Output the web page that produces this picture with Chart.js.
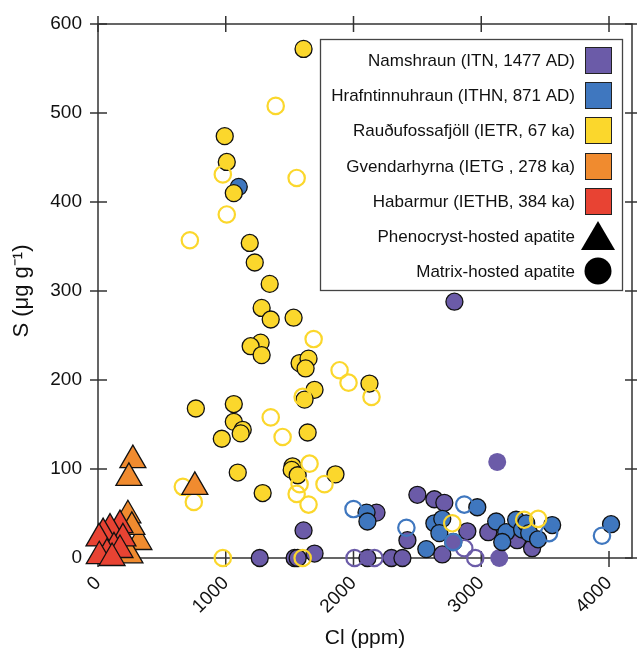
<!DOCTYPE html>
<html>
<head>
<meta charset="utf-8">
<script src="https://cdn.jsdelivr.net/npm/chart.js@4.4.1/dist/chart.umd.min.js"></script>
<style>
  html, body { margin: 0; padding: 0; background: #fff; }
</style>
</head>
<body>
<canvas id="scatter-chart" width="637" height="653"></canvas>
<script>
// Cl (ppm) vs S (ug/g) in apatite as [Cl, S]
const namshraunMatrix = [[1266,0],[1539,0],[1563,0],[1609,31],[1695,5],[2109,0],[2180,51],[2297,0],[2383,0],
  [2422,20],[2500,71],[2633,66],[2711,62],[2695,4],[2781,18],[2891,30],[3055,29],[3281,20],[3398,11],[2790,288]]
const namshraunPlain = [[3125,108],[3141,0]]
const namshraunOpen = [[2008,0],[2164,0],[2867,11],[2953,0]]
const hrafnMatrix = [[1102,417],[2102,51],[2109,41],[2633,39],[2695,44],[2672,28],[2570,10],[2969,57],[3117,41],
  [3195,29],[3164,18],[3273,43],[3320,32],[3352,39],[3375,28],[3445,21],[3555,37],[4016,38]]
const hrafnOpen = [[2000,55],[2414,34],[2781,18],[2867,60],[3945,25],[3531,28]]
const raudMatrix = [[1609,572],[992,474],[1008,445],[1063,410],[1188,354],[1227,332],[1344,308],[1281,281],
  [1352,268],[1531,270],[1273,242],[1195,238],[1281,228],[1578,219],[1648,224],[1625,213],[2125,196],[1695,189],
  [1617,178],[766,168],[1063,173],[1063,153],[1133,144],[1117,140],[969,134],[1641,141],[1094,96],[1289,73],
  [1523,103],[1516,99],[1563,93],[1859,94]]
const raudOpen = [[1391,508],[977,431],[1555,427],[1008,386],[719,357],[1688,246],[1891,211],[1961,197],[2141,181],
  [1602,181],[1352,158],[1445,136],[1656,106],[1773,83],[1578,83],[1555,72],[1648,60],[664,80],[750,63],[977,0],
  [1602,0],[2773,39],[3336,43],[3445,44]]
const gvendPheno = [[273,110],[242,90],[234,48],[320,18],[265,35],[250,3],[758,80]]
const habarPheno = [[172,37],[94,33],[40,28],[8,22],[195,22],[125,12],[172,9],[70,5],[10,2],[110,0]]

const xTicks = [0, 1000, 2000, 3000, 4000]
const yTicks = [0, 100, 200, 300, 400, 500, 600]

const legendNames = ['Namshraun (ITN, 1477 AD)', 'Hrafntinnuhraun (ITHN, 871 AD)', 'Rauðufossafjöll (IETR, 67 ka)',
  'Gvendarhyrna (IETG , 278 ka)', 'Habarmur (IETHB, 384 ka)']
const legendShapes = ['Phenocryst-hosted apatite', 'Matrix-hosted apatite']

const purple = '#6b5ba8'
const blue = '#3f77bf'
const yellow = '#fbd72c'
const orange = '#f08b2f'
const red = '#e84333'
const legendColors = [purple, blue, yellow, orange, red]

const pts = arr => arr.map(p => ({ x: p[0], y: p[1] }))

function filled(data, color) {
    return { data: pts(data), pointStyle: 'circle', pointRadius: 8.5, backgroundColor: color,
        borderColor: '#111', borderWidth: 1.3, clip: false }
}
function open(data, color) {
    return { data: pts(data), pointStyle: 'circle', pointRadius: 8.2, backgroundColor: 'rgba(0,0,0,0)',
        borderColor: color, borderWidth: 2.2, clip: false }
}
function tri(data, color) {
    return { data: pts(data), pointStyle: 'triangle', pointRadius: 15, backgroundColor: color,
        borderColor: '#111', borderWidth: 1.3, clip: false }
}

// frame with ticks crossing the axes on all four sides
const framePlugin = {
    id: 'frame',
    beforeDatasetsDraw(chart) {
        const { ctx, chartArea: a, scales } = chart
        ctx.save()
        ctx.strokeStyle = '#333'
        ctx.lineWidth = 1.5
        ctx.strokeRect(a.left, a.top, a.right - a.left, a.bottom - a.top)
        ctx.beginPath()
        xTicks.forEach(v => {
            const px = scales.x.getPixelForValue(v)
            ctx.moveTo(px, a.bottom - 7); ctx.lineTo(px, a.bottom + 9)
            ctx.moveTo(px, a.top - 8); ctx.lineTo(px, a.top + 8)
        })
        yTicks.forEach(v => {
            const py = scales.y.getPixelForValue(v)
            ctx.moveTo(a.left - 8, py); ctx.lineTo(a.left + 9, py)
            ctx.moveTo(a.right - 7, py); ctx.lineTo(a.right + 6, py)
        })
        ctx.stroke()
        ctx.restore()
    }
}

const legendPlugin = {
    id: 'boxLegend',
    afterDatasetsDraw(chart) {
        const ctx = chart.ctx
        const rows = [60, 95, 130, 166, 201, 236, 271]
        ctx.save()
        ctx.fillStyle = '#fff'
        ctx.fillRect(320, 39, 302, 251)
        ctx.strokeStyle = '#444'
        ctx.lineWidth = 1.3
        ctx.strokeRect(320.5, 39.5, 302, 251)
        ctx.font = '17px "Liberation Sans", Arial, sans-serif'
        ctx.textAlign = 'right'
        ctx.textBaseline = 'middle'
        const labels = legendNames.concat(legendShapes)
        labels.forEach((t, i) => {
            ctx.fillStyle = '#111'
            ctx.fillText(t, 575, rows[i] + 1)
        })
        ctx.lineWidth = 1
        ctx.strokeStyle = '#222'
        legendColors.forEach((c, i) => {
            ctx.fillStyle = c
            ctx.fillRect(585, rows[i] - 13, 27, 27)
            ctx.strokeRect(585.5, rows[i] - 12.5, 26, 26)
        })
        ctx.fillStyle = '#000'
        ctx.beginPath()
        ctx.moveTo(598, 221); ctx.lineTo(615, 250); ctx.lineTo(581, 250); ctx.closePath()
        ctx.fill()
        ctx.beginPath()
        ctx.arc(598, 271, 13.5, 0, Math.PI * 2)
        ctx.fill()
        ctx.restore()
    }
}

const tickFont = { family: '"Liberation Sans", Arial, sans-serif', size: 19 }
const titleFont = { family: '"Liberation Sans", Arial, sans-serif', size: 21 }

let ctx = document.getElementById('scatter-chart').getContext('2d')

let chart = new Chart(ctx, {
    type: 'scatter',
    data: {
        datasets: [
            tri(habarPheno, red),
            tri(gvendPheno, orange),
            open(raudOpen, yellow),
            filled(raudMatrix, yellow),
            open(hrafnOpen, blue),
            filled(hrafnMatrix, blue),
            open(namshraunOpen, purple),
            filled(namshraunMatrix, purple),
            { data: pts(namshraunPlain), pointStyle: 'circle', pointRadius: 9, backgroundColor: purple,
              borderWidth: 0, clip: false }
        ]
    },
    options: {
        responsive: false,
        animation: false,
        events: [],
        layout: { autoPadding: false, padding: { top: 24, right: 5, left: 0, bottom: 0 } },
        plugins: { legend: { display: false }, tooltip: { enabled: false } },
        scales: {
            x: {
                type: 'linear', min: 0, max: 4180,
                afterFit: s => { s.height = 95; s.paddingLeft = 0; s.paddingRight = 0 },
                afterBuildTicks: s => { s.ticks = xTicks.map(v => ({ value: v })) },
                grid: { display: false, drawTicks: false },
                border: { display: false },
                ticks: { minRotation: 45, maxRotation: 45, autoSkip: false, callback: v => String(v),
                    font: tickFont, color: '#111', padding: 14 },
                title: { display: true, text: 'Cl (ppm)', font: titleFont, color: '#111', padding: { bottom: 2 } }
            },
            y: {
                type: 'linear', min: 0, max: 600,
                afterFit: s => { s.width = 98; s.paddingTop = 0; s.paddingBottom = 0 },
                afterBuildTicks: s => { s.ticks = yTicks.map(v => ({ value: v })) },
                grid: { display: false, drawTicks: false },
                border: { display: false },
                ticks: { callback: v => String(v), font: tickFont, color: '#111', padding: 16 },
                title: { display: true, text: 'S (μg g⁻¹)', font: { family: titleFont.family, size: 22 },
                    color: '#111', padding: { top: 9 } }
            }
        }
    },
    plugins: [framePlugin, legendPlugin]
})
</script>
</body>
</html>
